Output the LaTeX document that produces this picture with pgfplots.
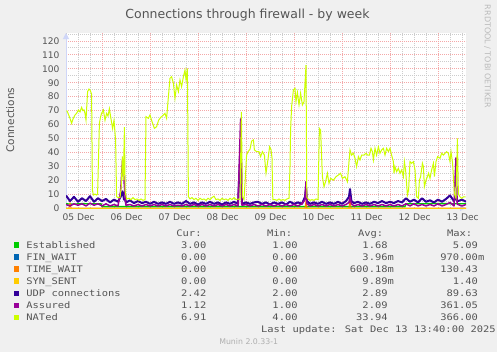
\documentclass[border=0pt]{standalone}
\usepackage{fontspec}
\setmainfont{DejaVu Sans}
\setmonofont{DejaVu Sans Mono}
\newfontfamily\legfont[FakeStretch=1.16]{DejaVu Sans Mono}
\usepackage{pgfplots}
\pgfplotsset{compat=1.18}
\usepackage{pgfplotstable}
\usetikzlibrary{arrows.meta}
\definecolor{bgc}{HTML}{F0F0F0}
\definecolor{txt}{HTML}{555555}
\definecolor{axc}{HTML}{CFD6F8}
\definecolor{mgrid}{HTML}{F4A8A8}
\definecolor{gridc}{HTML}{CCCCCC}
\definecolor{cEst}{HTML}{00CC00}
\definecolor{cFin}{HTML}{0066B3}
\definecolor{cTime}{HTML}{FF8000}
\definecolor{cSyn}{HTML}{FFCC00}
\definecolor{cUdp}{HTML}{330099}
\definecolor{cAss}{HTML}{990099}
\definecolor{cNat}{HTML}{CCFF00}

\pgfplotstableread{
h udp asr
0 9 2.5
2 5 1.5
4 8 3
6 4.5 2
8 7 3
10 5 1.5
12 8.5 3.5
14 4.5 2
16 7 3
18 5 1.5
20 6.5 3
22 4 1.5
24 6 2.5
26 4.5 1.5
27.3 8 12
28.3 12 35
29 6 20
29.7 6 5
30 4 2
32 5.5 2.5
34 3.5 1.5
36 5 2.5
38 3.5 1.5
40 4.5 2.5
42 3 1.5
44 4.5 2.5
46 3 1.5
48 4 2.5
50 3 1.5
52 4.5 2.5
54 3 1.5
56 4 2
58 3 1.5
60 5 2.5
62 3 1.5
64 4 2.5
66 2.5 1.5
68 4 2.5
70 3 1.5
72 4.5 2.5
74 3 1.5
76 4 2.5
78 2.5 1.5
80 4 2.5
82 3 1.5
84 4.5 2.5
86 3 1.5
87.3 45 64
88 3 2
90 4 2.5
92 3 1.5
94 4 2.5
96 4.5 1.5
98 3 2.5
100 4 1.5
102 2.5 2.5
104 4 1.5
106 3 2.5
108 4 1.5
110 2.5 2.5
112 4.5 1.5
114 3 2.5
116 4 1.5
118 3 3
119.5 8 6
120 15 19
120.5 5 3
122 3 1.5
124 4 2.5
126 3 1.5
128 4.5 2.5
130 3 1.5
132 4 2.5
134 3 1.5
136 4.5 2.5
138 3 1.5
140 5 2.5
141.5 8 4
142 13.6 8
142.7 5 3
144 3.5 1.5
146 4.5 2.5
148 3 1.5
150 4 2.5
152 3 1.5
154 4.5 2.5
156 3.5 1.5
158 5 2.5
160 3.5 1.5
162 4.5 2.5
164 3.5 1.5
166 5 2.5
168 4 1.5
170 7 3
172 4.5 1.5
174 6 3
176 4 1.5
178 7 2.5
180 4.5 1.5
182 5.5 2.5
184 4 1.5
186 6 3
188 4.5 1.5
190 6.5 2.5
192 9 4
194 5 1.5
195 8 36
195.6 5 3
196 5 2.5
198 6 1.5
200 4.5 2.5
}\udpasr

\newcommand\nm{\phantom{m}}
\newcommand\legrow[7]{%
  \fill[#2] (14,#1-0.6) rectangle (19.3,#1-5.9);
  \node[anchor=base west,inner sep=0,text=txt] at (26.2,#1) {\legfont #3};
  \node[anchor=base east,inner sep=0,text=txt] at (212.8,#1) {\legfont #4};
  \node[anchor=base east,inner sep=0,text=txt] at (304.1,#1) {\legfont #5};
  \node[anchor=base east,inner sep=0,text=txt] at (394.1,#1) {\legfont #6};
  \node[anchor=base east,inner sep=0,text=txt] at (484.5,#1) {\legfont #7};
}

\begin{document}
\begin{tikzpicture}
\useasboundingbox (0,0) rectangle (497bp,-352bp);
\fill[bgc] (0,0) rectangle (497bp,-352bp);
\begin{axis}[
  at={(66bp,-208bp)}, anchor=south west,
  scale only axis, width=400bp, height=175bp,
  xmin=0, xmax=200, ymin=0, ymax=125.7,
  axis lines=left,
  axis line style={draw=axc, line width=1bp},
  x axis line style={-{Triangle[length=6bp,width=6bp]}},
  y axis line style={-{Triangle[length=6bp,width=6bp]}},
  axis background/.style={fill=white},
  ytick={0,10,20,30,40,50,60,70,80,90,100,110,120},
  minor ytick={5,15,25,35,45,55,65,75,85,95,105,115,125},
  xtick={6.33,30.33,54.33,78.33,102.33,126.33,150.33,174.33,198.33},
  xticklabels={05 Dec,06 Dec,07 Dec,08 Dec,09 Dec,10 Dec,11 Dec,12 Dec,13 Dec},
  minor xtick={0.33,6.33,12.33,24.33,30.33,36.33,48.33,54.33,60.33,72.33,78.33,84.33,96.33,102.33,108.33,120.33,126.33,132.33,144.33,150.33,156.33,168.33,174.33,180.33,192.33,198.33},
  extra x ticks={18.33,42.33,66.33,90.33,114.33,138.33,162.33,186.33},
  extra x tick labels={,,,,,,,},
  extra x tick style={xmajorgrids=true, major grid style={draw=mgrid, line width=0.8bp, dash pattern=on 1bp off 1bp}},
  ymajorgrids=true, yminorgrids=true, xminorgrids=true, xmajorgrids=false,
  major grid style={draw=mgrid, line width=0.8bp, dash pattern=on 1bp off 1bp},
  minor grid style={draw=gridc, line width=0.8bp, dash pattern=on 1bp off 1bp},
  major tick length=0pt, minor tick length=0pt,
  tick label style={font=\fontsize{9.1bp}{10bp}\selectfont, text=txt},
  /pgf/number format/assume math mode=true,
  yticklabel style={xshift=-3bp},
  xticklabel style={yshift=-2bp},
]
% Established
\addplot[cEst, line width=1.3bp] coordinates {(0,3) (4,2.8) (8,3.2) (12,3) (17.5,3) (18,1) (169.5,1) (170,3) (185,3.2) (200,3)};
% FIN_WAIT
\addplot[cFin, line width=1bp] coordinates {(0,0) (200,0)};
% TIME_WAIT
\addplot[cTime, line width=1bp] coordinates {(0,0) (1.5,0) (2,3.5) (2.5,0) (119.5,0) (120,5) (120.5,0) (141.5,0) (142,7) (142.5,0) (200,0)};
% SYN_SENT
\addplot[cSyn, line width=1bp] coordinates {(0,0) (200,0)};
% UDP connections
\addplot[cUdp, line width=2bp, line join=round] table[x=h, y=udp] {\udpasr};
% Assured
\addplot[cAss, line width=1.5bp, line join=round] table[x=h, y=asr] {\udpasr};
% NATed
\addplot[cNat, line width=1bp] coordinates {
(0.3,70)(0.7,69.2)(2,64.4)(2.8,60.8)(3.5,64)(4.5,66.8)(5.3,68)(6.2,70.4)(7,69)(7.8,72.3)(8.4,70)(9,70.5)(9.5,68)(10,63.2)(10.8,83.6)(11.5,85.5)(12,84.8)(12.8,81.8)(13.2,12.9)(13.7,9.3)(14.5,10)(15.3,9.3)(15.8,10)(16.7,60.8)(17.2,65)(17.8,68)(18.7,70.4)(19.5,63)(20.3,68)(21,66)(21.7,71.3)(22.3,65.7)(23.3,57.2)(24,63)(24.8,48.9)(25.3,8.1)(26,7.5)(27,7.4)(27.6,15)(28.2,37)(28.7,20)(29.2,58)(29.6,12)(30.3,6.5)(31.5,7)(32.5,6)(33.5,7.5)(34.5,6)(35.5,6.5)(36.5,5.5)(37.5,6.5)(38.5,5.5)(39.5,6)(40,65.6)(41.2,64.4)(42,66.8)(42.8,63)(44.2,57.2)(45.3,58.4)(46.3,63)(47.3,65)(48.7,66.8)(49.5,68)(50.3,64.4)(51.2,80)(52,93.2)(52.8,94.3)(53.7,89.6)(54.5,78.8)(55.3,88.4)(56.2,83.6)(57,92)(57.8,87.1)(58.7,94.3)(59.5,99.1)(60,92)(60.7,100.3)(61.2,8.1)(62,6.5)(63,7.5)(64,6)(65,7)(66,5.5)(67,7)(68,6)(69,6.5)(70,5.5)(71,7)(72,6)(73,7.5)(74,8.5)(75,6)(76,6.5)(77,5.5)(78,7)(79,6)(80,6.5)(81,5.5)(82,7)(83,6)(84,7.5)(85,6)(86,6.5)(87,6)(87.7,69)(88.2,8)(89,6)(89.6,20)(90.3,38)(91,40.5)(92,42.2)(92.8,48)(93.7,48.9)(94.2,41.7)(95.3,40.5)(96.5,40.5)(97.3,36.9)(98.2,40.5)(99.2,38)(100,25)(101,35)(101.8,44)(102.5,42)(103,36)(103.4,6)(104.5,6)(105.5,5.5)(106.5,6.5)(107.5,5.5)(108.5,6)(109.5,5.5)(110.5,6.5)(111.5,7)(112,30)(112.3,56)(112.8,72.8)(113.7,84.8)(114.5,86)(115,76.4)(115.7,83)(116.5,74)(117.3,82.4)(118.2,74)(119,76.4)(120,102.7)(120.4,8)(121,6.5)(122,5.5)(123,6)(124,5.5)(125,6.5)(126,6)(126.7,57.2)(127.3,56)(128.2,22.5)(129,15.3)(129.8,18.9)(130.7,25)(131.5,17.7)(132.3,21.3)(133.7,20)(135,22.5)(136.2,23.7)(137.3,25)(138.2,21.3)(139.5,22.5)(140.7,18.9)(141.5,33.3)(142,41.7)(142.8,38)(143.7,39.3)(144.5,35.7)(145.3,29.7)(146.2,36.9)(147,34.5)(147.8,38)(149,38)(150,39.3)(150.8,38)(151.7,38)(152.5,42.9)(153.2,40.5)(153.7,34.5)(154.5,42.9)(155.3,38)(156.2,44)(157,39.3)(157.8,41.7)(158.7,42.9)(159.5,38)(160.3,42.9)(161.2,40.5)(162,42.9)(162.8,38)(163.7,33.3)(164,24.9)(164.5,29.7)(165.3,26.1)(166.2,28.5)(167,24.9)(167.8,27.3)(168.7,22.5)(169.2,33.3)(169.8,27.3)(170.7,9.3)(171.3,12.9)(172,33.3)(172.8,32.1)(173.7,33.3)(174.5,27.3)(175.3,8.1)(176.2,7)(176.7,20)(177.3,22.5)(178.2,32.1)(178.7,29.7)(179.2,15.3)(180,20)(180.7,22.5)(181.3,25)(182,21.3)(182.8,27.3)(183.7,32.1)(184.2,22.5)(185,33.3)(185.8,36.9)(187,35.7)(187.8,39.3)(188.7,38)(189.5,39.3)(190.3,40.5)(191.2,39.3)(192,33.3)(192.5,40.5)(193.3,32.1)(194.2,10)(195,7)(195.7,50)(196.2,10)(197,8)(197.8,7)(198.7,8)(199.8,8)
};
\end{axis}
\begin{scope}[x=1bp,y=-1bp]
\node[anchor=base,inner sep=0,text=txt,font=\fontsize{12.5bp}{14bp}\selectfont] at (247.5,18.3) {Connections through firewall - by week};
\node[rotate=90,inner sep=0,text=txt,font=\fontsize{10.5bp}{12bp}\selectfont] at (10.3,120) {Connections};
\node[rotate=-90,inner sep=0,text={rgb,255:red,187;green,187;blue,187},font=\fontsize{8bp}{9bp}\selectfont] at (487.5,56.5) {RRDTOOL / TOBI OETIKER};
\begingroup
\fontsize{9bp}{10bp}\selectfont
\node[anchor=base west,inner sep=0,text=txt] at (176.2,236.7) {\legfont Cur:};
\node[anchor=base west,inner sep=0,text=txt] at (266.8,236.7) {\legfont Min:};
\node[anchor=base west,inner sep=0,text=txt] at (357.8,236.7) {\legfont Avg:};
\node[anchor=base west,inner sep=0,text=txt] at (446.8,236.7) {\legfont Max:};
\legrow{248.3}{cEst}{Established}{3.00\nm}{1.00\nm}{1.68\nm}{5.09\nm}
\legrow{260.3}{cFin}{FIN\_WAIT}{0.00\nm}{0.00\nm}{3.96m}{970.00m}
\legrow{272.3}{cTime}{TIME\_WAIT}{0.00\nm}{0.00\nm}{600.18m}{130.43\nm}
\legrow{284.3}{cSyn}{SYN\_SENT}{0.00\nm}{0.00\nm}{9.89m}{1.40\nm}
\legrow{296.4}{cUdp}{UDP connections}{2.42\nm}{2.00\nm}{2.89\nm}{89.63\nm}
\legrow{308.4}{cAss}{Assured}{1.12\nm}{1.00\nm}{2.09\nm}{361.05\nm}
\legrow{320.5}{cNat}{NATed}{6.91\nm}{4.00\nm}{33.94\nm}{366.00\nm}
\node[anchor=base east,inner sep=0,text=txt] at (496,332.7) {\legfont Last update:  Sat Dec 13 13:40:00 2025};
\endgroup
\node[anchor=base,inner sep=0,text={rgb,255:red,175;green,175;blue,175},font=\fontsize{7.8bp}{9bp}\selectfont] at (248.7,344) {Munin 2.0.33-1};
\end{scope}
\end{tikzpicture}
\end{document}
